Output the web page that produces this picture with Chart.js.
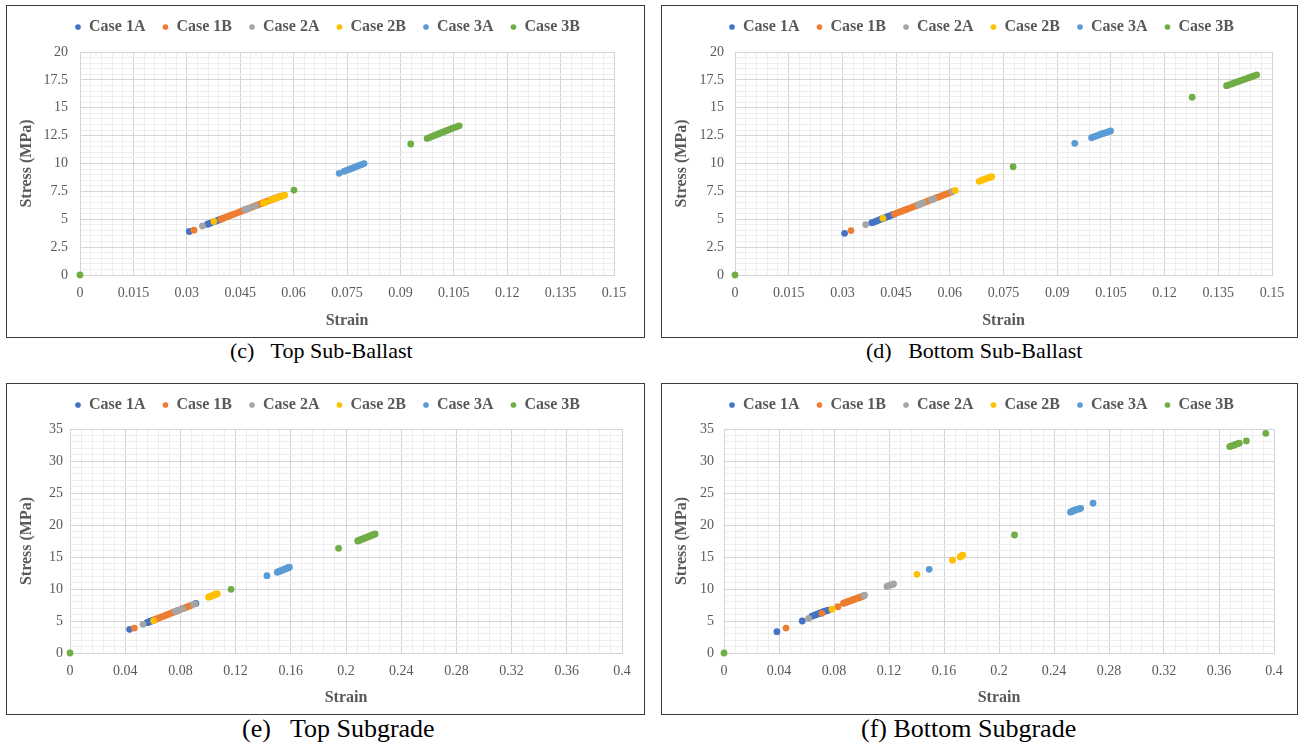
<!DOCTYPE html>
<html>
<head>
<meta charset="utf-8">
<script src="https://cdn.jsdelivr.net/npm/chart.js@4.4.1/dist/chart.umd.min.js"></script>
<style>
  body { margin: 0; background: #fff; width: 1298px; height: 747px; position: relative; overflow: hidden;
         font-family: "Liberation Serif", "Times New Roman", serif; }
  .frame { position: absolute; border: 1px solid #3c3c3c; box-sizing: border-box; }
  canvas { position: absolute; }
  .cap { position: absolute; color: #000; white-space: pre; }
  .cap.top { font-size: 22px; line-height: 24px; }
  .cap.bot { font-size: 26px; line-height: 26px; }
</style>
</head>
<body>
<div class="frame" style="left:6px;top:5px;width:639px;height:333px"></div>
<div class="frame" style="left:661px;top:5px;width:637px;height:333px"></div>
<div class="frame" style="left:6px;top:383px;width:639px;height:332px"></div>
<div class="frame" style="left:661px;top:383px;width:637px;height:332px"></div>

<canvas id="chartC" width="636" height="330" style="left:7px;top:6px"></canvas>
<canvas id="chartD" width="634" height="330" style="left:662px;top:6px"></canvas>
<canvas id="chartE" width="636" height="329" style="left:7px;top:384px"></canvas>
<canvas id="chartF" width="634" height="329" style="left:662px;top:384px"></canvas>

<div class="cap top" style="left:230px;top:339px">(c)   Top Sub-Ballast</div>
<div class="cap top" style="left:866px;top:339px">(d)   Bottom Sub-Ballast</div>
<div class="cap bot" style="left:242px;top:716px">(e)   Top Subgrade</div>
<div class="cap bot" style="left:861px;top:716px">(f) Bottom Subgrade</div>

<script>
// series names and Excel default colours
const seriesNames = ['Case 1A', 'Case 1B', 'Case 2A', 'Case 2B', 'Case 3A', 'Case 3B'];
const seriesColors = ['#4472C4', '#ED7D31', '#A5A5A5', '#FFC000', '#5B9BD5', '#70AD47'];

// axis ticks (labelled values)
const sbStrainTicks = [0, 0.015, 0.03, 0.045, 0.06, 0.075, 0.09, 0.105, 0.12, 0.135, 0.15];
const sbStressTicks = [0, 2.5, 5, 7.5, 10, 12.5, 15, 17.5, 20];
const sgStrainTicks = [0, 0.04, 0.08, 0.12, 0.16, 0.2, 0.24, 0.28, 0.32, 0.36, 0.4];
const sgStressTicks = [0, 5, 10, 15, 20, 25, 30, 35];
const minorPerMajor = 5;

// (c) Top Sub-Ballast  [strain, stress]
const topSB_1A = [[0.0307,3.9],[0.0358,4.55],[0.0364,4.62],[0.037,4.7],[0.0376,4.77],[0.0382,4.84],[0.0388,4.92],[0.0394,4.99],[0.04,5.06]];
const topSB_1B = [[0.032,4.02],[0.0396,5.01],[0.0403,5.1],[0.041,5.19],[0.0417,5.27],[0.0424,5.36],[0.0431,5.44],[0.0438,5.53],[0.0445,5.62],[0.0452,5.7],[0.0459,5.79],[0.0466,5.88],[0.0473,5.96],[0.048,6.05],[0.0487,6.14],[0.0494,6.22],[0.0501,6.31],[0.0508,6.4],[0.0515,6.48],[0.0522,6.57],[0.0529,6.65],[0.0536,6.74],[0.0543,6.83],[0.055,6.91],[0.0557,7.0],[0.0564,7.08]];
const topSB_2A = [[0.0344,4.4],[0.0463,5.86],[0.0469,5.93],[0.0476,6.0],[0.0493,6.2]];
const topSB_2B = [[0.0376,4.8],[0.0515,6.45],[0.0519,6.5],[0.0536,6.71],[0.0542,6.78],[0.0548,6.85],[0.0554,6.92],[0.056,6.99],[0.0566,7.06],[0.0571,7.12],[0.0575,7.17]];
const topSB_3A = [[0.0728,9.12],[0.0742,9.3],[0.0749,9.39],[0.0756,9.47],[0.0763,9.56],[0.077,9.64],[0.0777,9.73],[0.0784,9.82],[0.0791,9.9],[0.0798,9.99]];
const topSB_3B = [[0,0],[0.0601,7.62],[0.0929,11.75],[0.0975,12.25],[0.0982,12.33],[0.0989,12.42],[0.0996,12.51],[0.1003,12.6],[0.101,12.69],[0.1017,12.78],[0.1024,12.87],[0.1031,12.96],[0.1038,13.05],[0.1045,13.14],[0.1052,13.22],[0.1059,13.31],[0.1065,13.38]];

// (d) Bottom Sub-Ballast
const botSB_1A = [[0.0306,3.74],[0.0382,4.68],[0.0388,4.75],[0.0394,4.83],[0.04,4.9],[0.0406,4.98],[0.0412,5.05],[0.0418,5.13],[0.0424,5.2],[0.043,5.28],[0.0436,5.35],[0.0442,5.43]];
const botSB_1B = [[0.0324,3.98],[0.0445,5.46],[0.0452,5.55],[0.0459,5.64],[0.0466,5.72],[0.0473,5.81],[0.048,5.9],[0.0487,5.98],[0.0494,6.07],[0.0501,6.16],[0.0508,6.24],[0.0515,6.33],[0.0522,6.42],[0.0529,6.5],[0.0536,6.59],[0.0543,6.68],[0.055,6.76],[0.0557,6.85],[0.0564,6.94],[0.0571,7.02],[0.0578,7.11],[0.0585,7.2],[0.0592,7.28],[0.0599,7.37],[0.0605,7.44]];
const botSB_2A = [[0.0365,4.52],[0.0512,6.3],[0.0518,6.37],[0.0526,6.47],[0.0549,6.76],[0.0555,6.83],[0.0607,7.48]];
const botSB_2B = [[0.0413,5.08],[0.0615,7.58],[0.0682,8.4],[0.0688,8.48],[0.0694,8.56],[0.07,8.63],[0.0706,8.69],[0.0712,8.76],[0.0717,8.81]];
const botSB_3A = [[0.0949,11.81],[0.0996,12.32],[0.1002,12.39],[0.1008,12.46],[0.1014,12.53],[0.102,12.6],[0.1026,12.67],[0.1032,12.73],[0.1038,12.8],[0.1044,12.86],[0.1049,12.92]];
const botSB_3B = [[0,0],[0.0777,9.71],[0.1277,15.94],[0.1373,16.98],[0.138,17.06],[0.1387,17.14],[0.1394,17.22],[0.1401,17.3],[0.1408,17.38],[0.1415,17.46],[0.1422,17.54],[0.1429,17.62],[0.1436,17.7],[0.1443,17.78],[0.145,17.86],[0.1457,17.94]];

// (e) Top Subgrade
const topSG_1A = [[0.0432,3.7],[0.0558,4.74],[0.0566,4.81],[0.0574,4.88],[0.0582,4.94],[0.059,5.01],[0.0598,5.08],[0.0606,5.15],[0.0614,5.22],[0.0912,7.74]];
const topSG_1B = [[0.0466,3.9],[0.062,5.27],[0.0635,5.39],[0.065,5.52],[0.0665,5.65],[0.068,5.77],[0.0695,5.9],[0.071,6.03],[0.0725,6.16],[0.074,6.28],[0.0755,6.41],[0.077,6.54],[0.0785,6.67],[0.08,6.79],[0.0815,6.92],[0.083,7.05],[0.0845,7.17],[0.086,7.3],[0.0872,7.4]];
const topSG_2A = [[0.0529,4.48],[0.0762,6.47],[0.0774,6.57],[0.0786,6.68],[0.0818,6.95],[0.0895,7.6],[0.0905,7.68]];
const topSG_2B = [[0.0606,5.05],[0.1004,8.72],[0.1013,8.8],[0.1022,8.88],[0.1031,8.96],[0.104,9.04],[0.1049,9.12],[0.1058,9.19],[0.1067,9.26]];
const topSG_3A = [[0.1427,12.08],[0.1502,12.62],[0.1511,12.7],[0.152,12.78],[0.1529,12.86],[0.1538,12.94],[0.1547,13.02],[0.1556,13.1],[0.1565,13.18],[0.1574,13.26],[0.1583,13.34],[0.159,13.4]];
const topSG_3B = [[0,0],[0.1167,9.95],[0.1946,16.35],[0.2085,17.5],[0.2094,17.58],[0.2103,17.66],[0.2112,17.74],[0.2121,17.82],[0.213,17.9],[0.2139,17.98],[0.2148,18.05],[0.2157,18.13],[0.2166,18.21],[0.2175,18.29],[0.2184,18.37],[0.2193,18.45],[0.2202,18.52],[0.2211,18.6]];

// (f) Bottom Subgrade
const botSG_1A = [[0.0385,3.33],[0.0569,5.0],[0.064,5.75],[0.0652,5.85],[0.0664,5.95],[0.0676,6.05],[0.0688,6.15],[0.07,6.25],[0.0712,6.35],[0.0724,6.45],[0.0736,6.55],[0.0748,6.62],[0.076,6.7]];
const botSG_1B = [[0.0451,3.9],[0.0712,6.2],[0.0829,7.23],[0.0869,7.77],[0.0878,7.84],[0.0887,7.91],[0.0896,7.98],[0.0905,8.05],[0.0914,8.12],[0.0923,8.19],[0.0932,8.26],[0.0941,8.33],[0.095,8.4],[0.0959,8.47],[0.0968,8.54],[0.0977,8.61],[0.0986,8.68],[0.0995,8.75],[0.1004,8.82],[0.1013,8.89]];
const botSG_2A = [[0.0615,5.4],[0.1018,8.95],[0.1022,9.05],[0.1185,10.4],[0.1195,10.5],[0.1205,10.58],[0.1215,10.65],[0.1225,10.72],[0.1233,10.8]];
const botSG_2B = [[0.0785,6.85],[0.1403,12.3],[0.1662,14.5],[0.1718,15.0],[0.1724,15.1],[0.173,15.2],[0.1736,15.3]];
const botSG_3A = [[0.1492,13.08],[0.252,22.0],[0.2528,22.1],[0.2536,22.2],[0.2545,22.28],[0.2555,22.36],[0.2565,22.42],[0.258,22.5],[0.2594,22.6],[0.2684,23.4]];
const botSG_3B = [[0,0],[0.2113,18.44],[0.3678,32.25],[0.3688,32.33],[0.3698,32.4],[0.3708,32.48],[0.3718,32.56],[0.3728,32.64],[0.3738,32.72],[0.3748,32.8],[0.3799,33.13],[0.394,34.33]];

const FONT = "'Liberation Serif', 'Times New Roman', serif";
const TEXT = '#595959';
const GRID_MAJOR = '#d4d4d4';
const GRID_MINOR = '#eeeeee';

// every minor grid position between the labelled ticks
function gridValues(majors) {
  const vals = [];
  for (let i = 0; i < majors.length - 1; i++) {
    const step = (majors[i + 1] - majors[i]) / minorPerMajor;
    for (let k = 0; k < minorPerMajor; k++) vals.push(majors[i] + step * k);
  }
  vals.push(majors[majors.length - 1]);
  return vals;
}

function isMajor(v, majors) {
  return majors.some(m => Math.abs(m - v) < 1e-9);
}

function axis(majors, extra) {
  return {
    type: 'linear',
    min: majors[0],
    max: majors[majors.length - 1],
    afterBuildTicks: s => { s.ticks = gridValues(majors).map(v => ({ value: v })); },
    ticks: {
      autoSkip: false,
      maxRotation: 0,
      minRotation: 0,
      padding: extra.tickPad,
      color: TEXT,
      font: { family: FONT, size: 14 },
      callback: v => isMajor(v, majors) ? String(+v.toFixed(4)) : ''
    },
    grid: {
      drawTicks: false,
      color: ctx => (ctx.tick && isMajor(ctx.tick.value, majors)) ? GRID_MAJOR : GRID_MINOR
    },
    border: { color: GRID_MAJOR },
    title: {
      display: true,
      text: extra.title,
      color: TEXT,
      font: { family: FONT, size: 16, weight: 'bold' },
      padding: extra.titlePad
    },
    afterFit: extra.afterFit
  };
}

function makePanel(id, series, xMajors, yMajors, lay) {
  const datasets = series.map((pts, i) => ({
    label: seriesNames[i],
    data: pts,
    backgroundColor: seriesColors[i],
    borderColor: seriesColors[i],
    pointRadius: 3.4,
    pointHoverRadius: 3.4,
    pointBorderWidth: 0,
    clip: false,
    order: 10 - i   // later cases drawn on top, like the spreadsheet
  }));

  new Chart(document.getElementById(id), {
    type: 'scatter',
    data: { datasets },
    options: {
      responsive: false,
      devicePixelRatio: 1,
      animation: false,
      events: [],
      layout: { padding: { left: 6, right: 1, top: -4, bottom: 0 } },
      plugins: {
        legend: {
          position: 'top',
          labels: {
            usePointStyle: true,
            pointStyle: 'circle',
            boxWidth: 6,
            boxHeight: 4,
            padding: 17,
            color: TEXT,
            font: { family: FONT, size: 16, weight: 'bold' },
            sort: (a, b) => a.datasetIndex - b.datasetIndex
          }
        },
        // empty spacer between legend and plot area
        subtitle: { display: true, text: '', weight: 500, padding: 0, font: { size: lay.spacer, lineHeight: 1 } },
        tooltip: { enabled: false }
      },
      scales: {
        x: axis(xMajors, {
          title: 'Strain', tickPad: 10, titlePad: { top: 0, bottom: 6 },
          afterFit: s => { s.height = lay.xh; s.paddingRight = lay.padR; }
        }),
        y: axis(yMajors, {
          title: 'Stress (MPa)', tickPad: lay.yTickPad, titlePad: { top: 4, bottom: 0 },
          afterFit: s => { s.width = lay.yw; }
        })
      }
    }
  });
}

makePanel('chartC', [topSB_1A, topSB_1B, topSB_2A, topSB_2B, topSB_3A, topSB_3B], sbStrainTicks, sbStressTicks,
  { spacer: 7, xh: 61, padR: 29, yw: 67, yTickPad: 12 });
makePanel('chartD', [botSB_1A, botSB_1B, botSB_2A, botSB_2B, botSB_3A, botSB_3B], sbStrainTicks, sbStressTicks,
  { spacer: 7, xh: 61, padR: 24, yw: 67, yTickPad: 11 });
makePanel('chartE', [topSG_1A, topSG_1B, topSG_2A, topSG_2B, topSG_3A, topSG_3B], sgStrainTicks, sgStressTicks,
  { spacer: 6, xh: 60, padR: 21, yw: 57, yTickPad: 7 });
makePanel('chartF', [botSG_1A, botSG_1B, botSG_2A, botSG_2B, botSG_3A, botSG_3B], sgStrainTicks, sgStressTicks,
  { spacer: 6, xh: 60, padR: 22, yw: 56, yTickPad: 10 });
</script>
</body>
</html>
